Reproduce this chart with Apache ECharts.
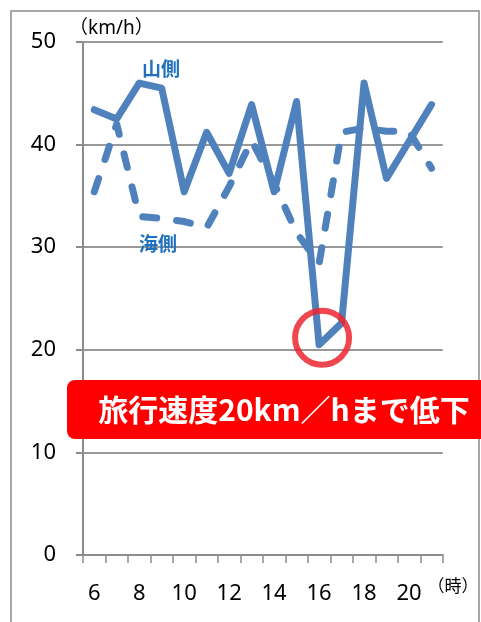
<!DOCTYPE html>
<html>
<head>
<meta charset="utf-8">
<script src="https://cdn.jsdelivr.net/npm/echarts@6/dist/echarts.min.js"></script>
<style>
  html, body { margin: 0; padding: 0; background: #fff; }
  #chart { width: 481px; height: 622px; }
</style>
</head>
<body>
<div id="chart"></div>
<script>
// hours on the x axis
const hours = ["6", "7", "8", "9", "10", "11", "12", "13", "14", "15", "16", "17", "18", "19", "20", "21"];
// 山側 (solid)
const mountainSide = [43.4, 42.5, 46.0, 45.5, 35.4, 41.2, 37.2, 43.9, 35.4, 44.2, 20.5, 22.6, 46.0, 36.7, 40.3, 43.9];
// 海側 (dashed)
const seaSide = [35.4, 42.0, 33.0, 32.8, 32.5, 31.9, 35.9, 40.4, 36.2, 31.4, 28.4, 41.2, 41.6, 41.3, 41.3, 37.7];
const yTicks = [0, 10, 20, 30, 40, 50];

const LINE_BLUE = "#4f81bd";
const LABEL_BLUE = "#1f70be";
const GREY = "#8c8c8c";
const NUM_FONT = "'Noto Sans', 'Noto Sans CJK JP'";
const JP_FONT = "Noto Sans CJK JP";

const chart = echarts.init(document.getElementById("chart"), null, { renderer: "canvas" });

const option = {
  animation: false,
  backgroundColor: "#fff",
  grid: { left: 83, right: 33, top: 42, bottom: 67 },
  xAxis: {
    type: "category",
    data: hours,
    boundaryGap: true,
    name: "（時）",
    nameLocation: "end",
    nameGap: -24,
    nameTextStyle: {
      fontFamily: JP_FONT,
      fontSize: 17,
      color: "#000",
      verticalAlign: "top",
      padding: [22, 0, 0, 0]
    },
    axisLine: { lineStyle: { color: GREY, width: 2 } },
    axisTick: { show: true, interval: 0, length: 8, lineStyle: { color: GREY, width: 1.5 } },
    axisLabel: {
      interval: 1,
      margin: 28,
      fontFamily: NUM_FONT,
      fontSize: 22,
      color: "#000"
    },
    splitLine: { show: false }
  },
  yAxis: {
    type: "value",
    min: yTicks[0],
    max: yTicks[yTicks.length - 1],
    interval: 10,
    name: "（km/h）",
    nameLocation: "end",
    nameGap: 13,
    nameTextStyle: {
      fontFamily: NUM_FONT,
      fontSize: 19,
      color: "#000",
      align: "left",
      verticalAlign: "middle",
      padding: [0, 0, 0, -14]
    },
    axisLine: { show: true, lineStyle: { color: GREY, width: 2 } },
    axisTick: { show: true, length: 7, lineStyle: { color: GREY, width: 2 } },
    axisLabel: {
      margin: 27,
      fontFamily: NUM_FONT,
      fontSize: 22,
      color: "#000"
    },
    splitLine: { lineStyle: { color: "#999", width: 2 } }
  },
  series: [
    {
      name: "山側",
      type: "line",
      data: mountainSide,
      showSymbol: false,
      lineStyle: { color: LINE_BLUE, width: 7, join: "round", cap: "round" },
      z: 3,
      markPoint: {
        symbol: "circle",
        symbolSize: 54,
        symbolOffset: [3, -7],
        silent: true,
        itemStyle: { color: "rgba(0,0,0,0)", borderColor: "rgba(236,38,48,0.85)", borderWidth: 6 },
        label: { show: false },
        data: [{ coord: ["16", mountainSide[10]] }]
      }
    },
    {
      name: "海側",
      type: "line",
      data: seaSide,
      showSymbol: false,
      lineStyle: { color: LINE_BLUE, width: 7, type: [14, 20], cap: "round", join: "round" },
      z: 3
    }
  ],
  graphic: [
    {
      type: "rect",
      z: -10,
      silent: true,
      shape: { x: 11, y: 11, width: 468, height: 640 },
      style: { fill: "none", stroke: GREY, lineWidth: 1.5 }
    },
    {
      type: "text",
      left: 142,
      top: 59,
      z: 10,
      style: { text: "山側", font: "bold 19px '" + JP_FONT + "'", fill: LABEL_BLUE }
    },
    {
      type: "text",
      left: 139,
      top: 234,
      z: 10,
      style: { text: "海側", font: "bold 19px '" + JP_FONT + "'", fill: LABEL_BLUE }
    },
    {
      type: "rect",
      z: 20,
      silent: true,
      shape: { x: 67, y: 380, width: 430, height: 59, r: 8 },
      style: { fill: "#ff0000" }
    },
    {
      type: "text",
      z: 21,
      x: 284,
      y: 410,
      style: {
        text: "旅行速度20km／hまで低下",
        font: "bold 30px '" + JP_FONT + "'",
        fill: "#fff",
        align: "center",
        verticalAlign: "middle"
      }
    }
  ]
};

chart.setOption(option);
</script>
</body>
</html>
